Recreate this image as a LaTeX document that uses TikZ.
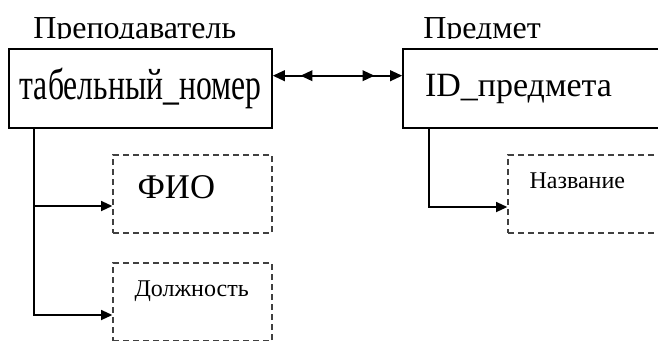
\documentclass[tikz,border=0pt]{standalone}
\usepackage{fontspec}
\setmainfont{Liberation Serif}
\newfontfamily\narrowserif[FakeStretch=0.72]{Liberation Serif}
\usetikzlibrary{arrows.meta,decorations.markings}

\begin{document}
\begin{tikzpicture}[x=0.75pt,y=-0.75pt,
    entity/.style={draw,line width=1.2pt,minimum width=197.25pt,minimum height=59.25pt,inner sep=0pt,font=\fontsize{25.5}{28}\selectfont},
    attr/.style={draw=black!75,line width=1pt,dash pattern=on 4.5pt off 3pt,minimum width=119.25pt,minimum height=58.5pt,inner sep=0pt},
    title/.style={anchor=base west,inner sep=0pt,font=\fontsize{24}{28}\selectfont},
    attrtext/.style={anchor=base west,inner sep=0pt},
    link/.style={line width=1.3pt}]
    \path[use as bounding box,clip] (0,0) rectangle (658,340);
    %titles, cut at the top edge of the boxes
    \begin{scope}
    \clip (0,0) rectangle (658,38.3);
    \node[title] (prep) at (33,38.5) {Преподаватель};
    \node[title] (pred) at (423,38.5) {Предмет};
    \end{scope}
    %key boxes
    \node[entity,font=\narrowserif\fontsize{33}{36}\selectfont] (tab) at (140.5,88.5) {табельный\_номер};
    \node[entity,align=left,text width=164.25pt,inner xsep=16.5pt,text depth=5pt] (idp) at (534.5,88.5) {ID\_предмета};
    %attribute boxes
    \node[attr] (fio) at (192.5,194) {};
    \node[attr] (dolzh) at (192.5,302) {};
    \node[attr] (nazv) at (587.5,194) {};
    \node[attrtext,font=\fontsize{26}{28}\selectfont] (fiot) at ([shift={(25,4)}]fio.west) {ФИО};
    \node[attrtext,font=\fontsize{18}{21}\selectfont] (dolzht) at ([shift={(22,-6)}]dolzh.west) {Должность};
    \node[attrtext,font=\fontsize{18}{21}\selectfont] (nazvt) at ([shift={(22,-6)}]nazv.west) {Название};
    %many-to-many link
    \draw[link,{Triangle[length=9pt,width=8pt]}-{Triangle[length=9pt,width=8pt]},
      postaction={decorate},
      decoration={markings,
        mark=at position 0.214 with {\arrowreversed{Triangle[length=9pt,width=8pt]}},
        mark=at position 0.786 with {\arrow{Triangle[length=9pt,width=8pt]}}}]
      ([yshift=9.6pt]tab.east) -- ([yshift=9.6pt]idp.west);
    %attributes
    \draw[link,-{Triangle[length=8.5pt,width=7.5pt]}] ([xshift=19.5pt]tab.south west) |- ([yshift=-9pt]fio.west);
    \draw[link,-{Triangle[length=8.5pt,width=7.5pt]}] ([xshift=19.5pt]tab.south west) |- ([yshift=-9.75pt]dolzh.west);
    \draw[link,-{Triangle[length=8.5pt,width=7.5pt]}] ([xshift=20.25pt]idp.south west) |- ([yshift=-9.75pt]nazv.west);
\end{tikzpicture}
\end{document}
